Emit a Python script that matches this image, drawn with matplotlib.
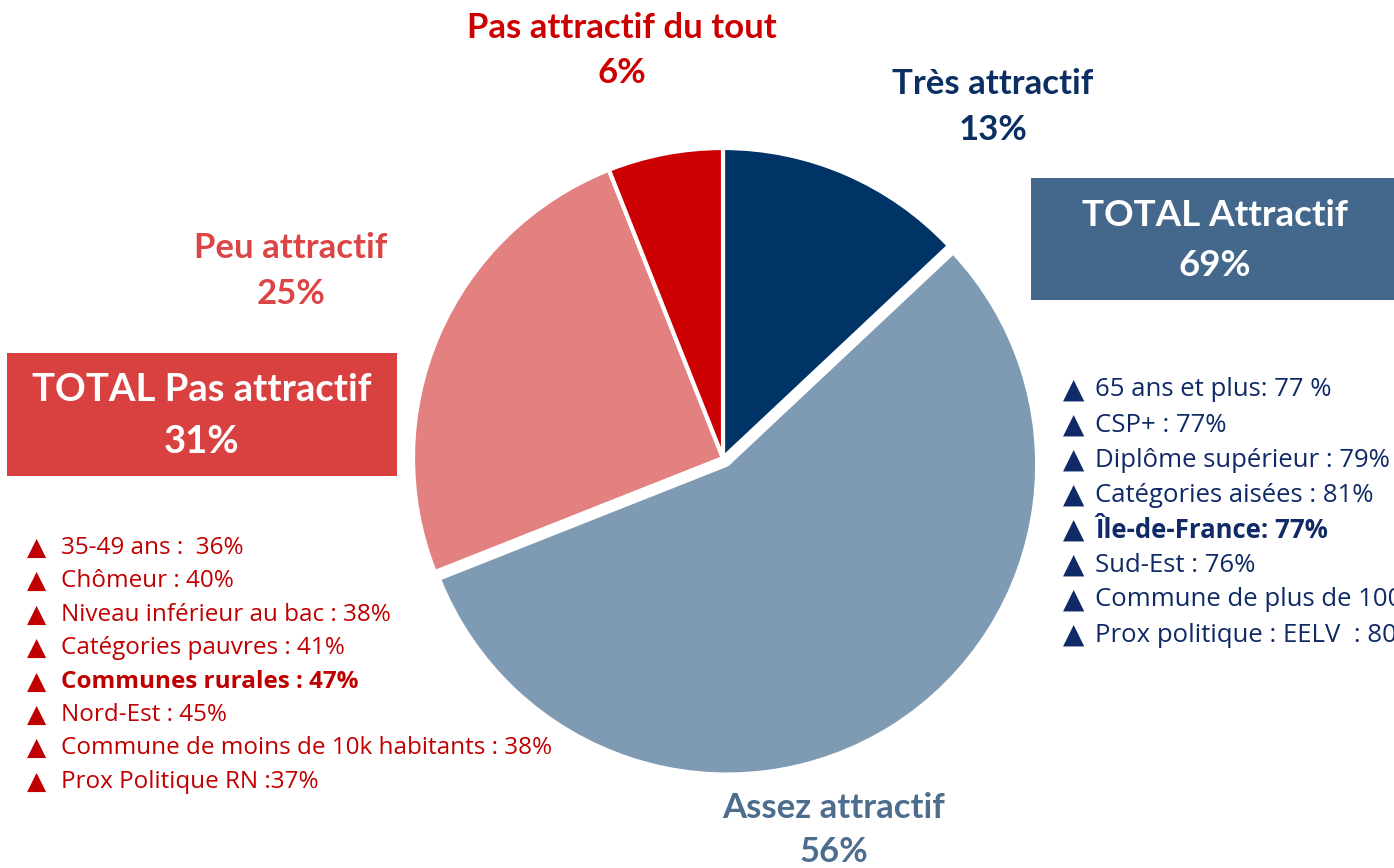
import matplotlib.pyplot as plt
from matplotlib.patches import Rectangle

# pie data (clockwise from 12 o'clock)
labels = ['Très attractif', 'Assez attractif', 'Peu attractif', 'Pas attractif du tout']
values = [13, 56, 25, 6]
explode = [0, 0.025, 0, 0]
colors = ['#003366', '#7f9ab3', '#e38080', '#cc0000']
label_colors = ['#0b2f63', '#4d6d8e', '#dc4545', '#cc0000']

total_attr = 69
total_pas = 31

pos_items = ['65 ans et plus: 77 %', 'CSP+ : 77%', 'Diplôme supérieur : 79%',
             'Catégories aisées : 81%', 'Île-de-France: 77%', 'Sud-Est : 76%',
             'Commune de plus de 100k habitants : 78%', 'Prox politique : EELV  : 80%']
pos_bold = [False, False, False, False, True, False, False, False]

neg_items = ['35-49 ans :  36%', 'Chômeur : 40%', 'Niveau inférieur au bac : 38%',
             'Catégories pauvres : 41%', 'Communes rurales : 47%', 'Nord-Est : 45%',
             'Commune de moins de 10k habitants : 38%', 'Prox Politique RN :37%']
neg_bold = [False, False, False, False, True, False, False, False]

W, H = 1394, 868
fig = plt.figure(figsize=(W / 100, H / 100), dpi=100)
fig.patch.set_facecolor('white')
FONT = ['Lato', 'DejaVu Sans']
LFONT = ['Open Sans', 'DejaVu Sans']

def px(x, y):
    return x / W, 1 - y / H

# pie axes: center (723, 458), radius 310 px
cx, cy, R = 723, 458, 310
half = 1.1 * R
ax = fig.add_axes([(cx - half) / W, (H - cy - half) / H, 2 * half / W, 2 * half / H])
ax.pie(values, explode=explode, colors=colors, startangle=90, counterclock=False,
       wedgeprops=dict(edgecolor='white', linewidth=3))
ax.set_xlim(-1.1, 1.1)
ax.set_ylim(-1.1, 1.1)
ax.set_aspect('equal')
ax.axis('off')

# slice labels
label_pos = [(993, 84, 130), (834, 808, 852), (291, 248, 294), (622, 28, 73)]
for lab, v, c, (x, y1, y2) in zip(labels, values, label_colors, label_pos):
    fig.text(*px(x, y1), lab, ha='center', va='center', fontsize=25,
             fontweight='bold', color=c, family=FONT)
    fig.text(*px(x, y2), str(v) + '%', ha='center', va='center', fontsize=25,
             fontweight='bold', color=c, family=FONT)

# total boxes
fig.patches.append(Rectangle(px(1031, 300), 400 / W, 122 / H, transform=fig.transFigure,
                             facecolor='#44688c', edgecolor='none'))
fig.text(*px(1215, 215), 'TOTAL Attractif', ha='center', va='center', fontsize=26.5,
         fontweight='bold', color='white', family=FONT)
fig.text(*px(1215, 266), str(total_attr) + '%', ha='center', va='center', fontsize=26.5,
         fontweight='bold', color='white', family=FONT)

fig.patches.append(Rectangle(px(7, 476), 390 / W, 123 / H, transform=fig.transFigure,
                             facecolor='#d94141', edgecolor='none'))
fig.text(*px(202, 390), 'TOTAL Pas attractif', ha='center', va='center', fontsize=27.5,
         fontweight='bold', color='white', family=FONT)
fig.text(*px(202, 442), str(total_pas) + '%', ha='center', va='center', fontsize=27.5,
         fontweight='bold', color='white', family=FONT)

# bullet lists
for i, (t, b) in enumerate(zip(pos_items, pos_bold)):
    y = 390 + i * 35
    fig.text(*px(1074, y), '▲', ha='center', va='center', fontsize=20,
             color='#0f2a66', family='DejaVu Sans')
    fig.text(*px(1095, y), t, ha='left', va='center', fontsize=18.5,
             fontweight='bold' if b else 'normal', color='#0f2a66', family=LFONT)

for i, (t, b) in enumerate(zip(neg_items, neg_bold)):
    y = 548 + i * 33.4
    fig.text(*px(37, y), '▲', ha='center', va='center', fontsize=18,
             color='#c00000', family='DejaVu Sans')
    fig.text(*px(61, y), t, ha='left', va='center', fontsize=17.5,
             fontweight='bold' if b else 'normal', color='#c00000', family=LFONT)

fig.savefig('out.png', dpi=100)
